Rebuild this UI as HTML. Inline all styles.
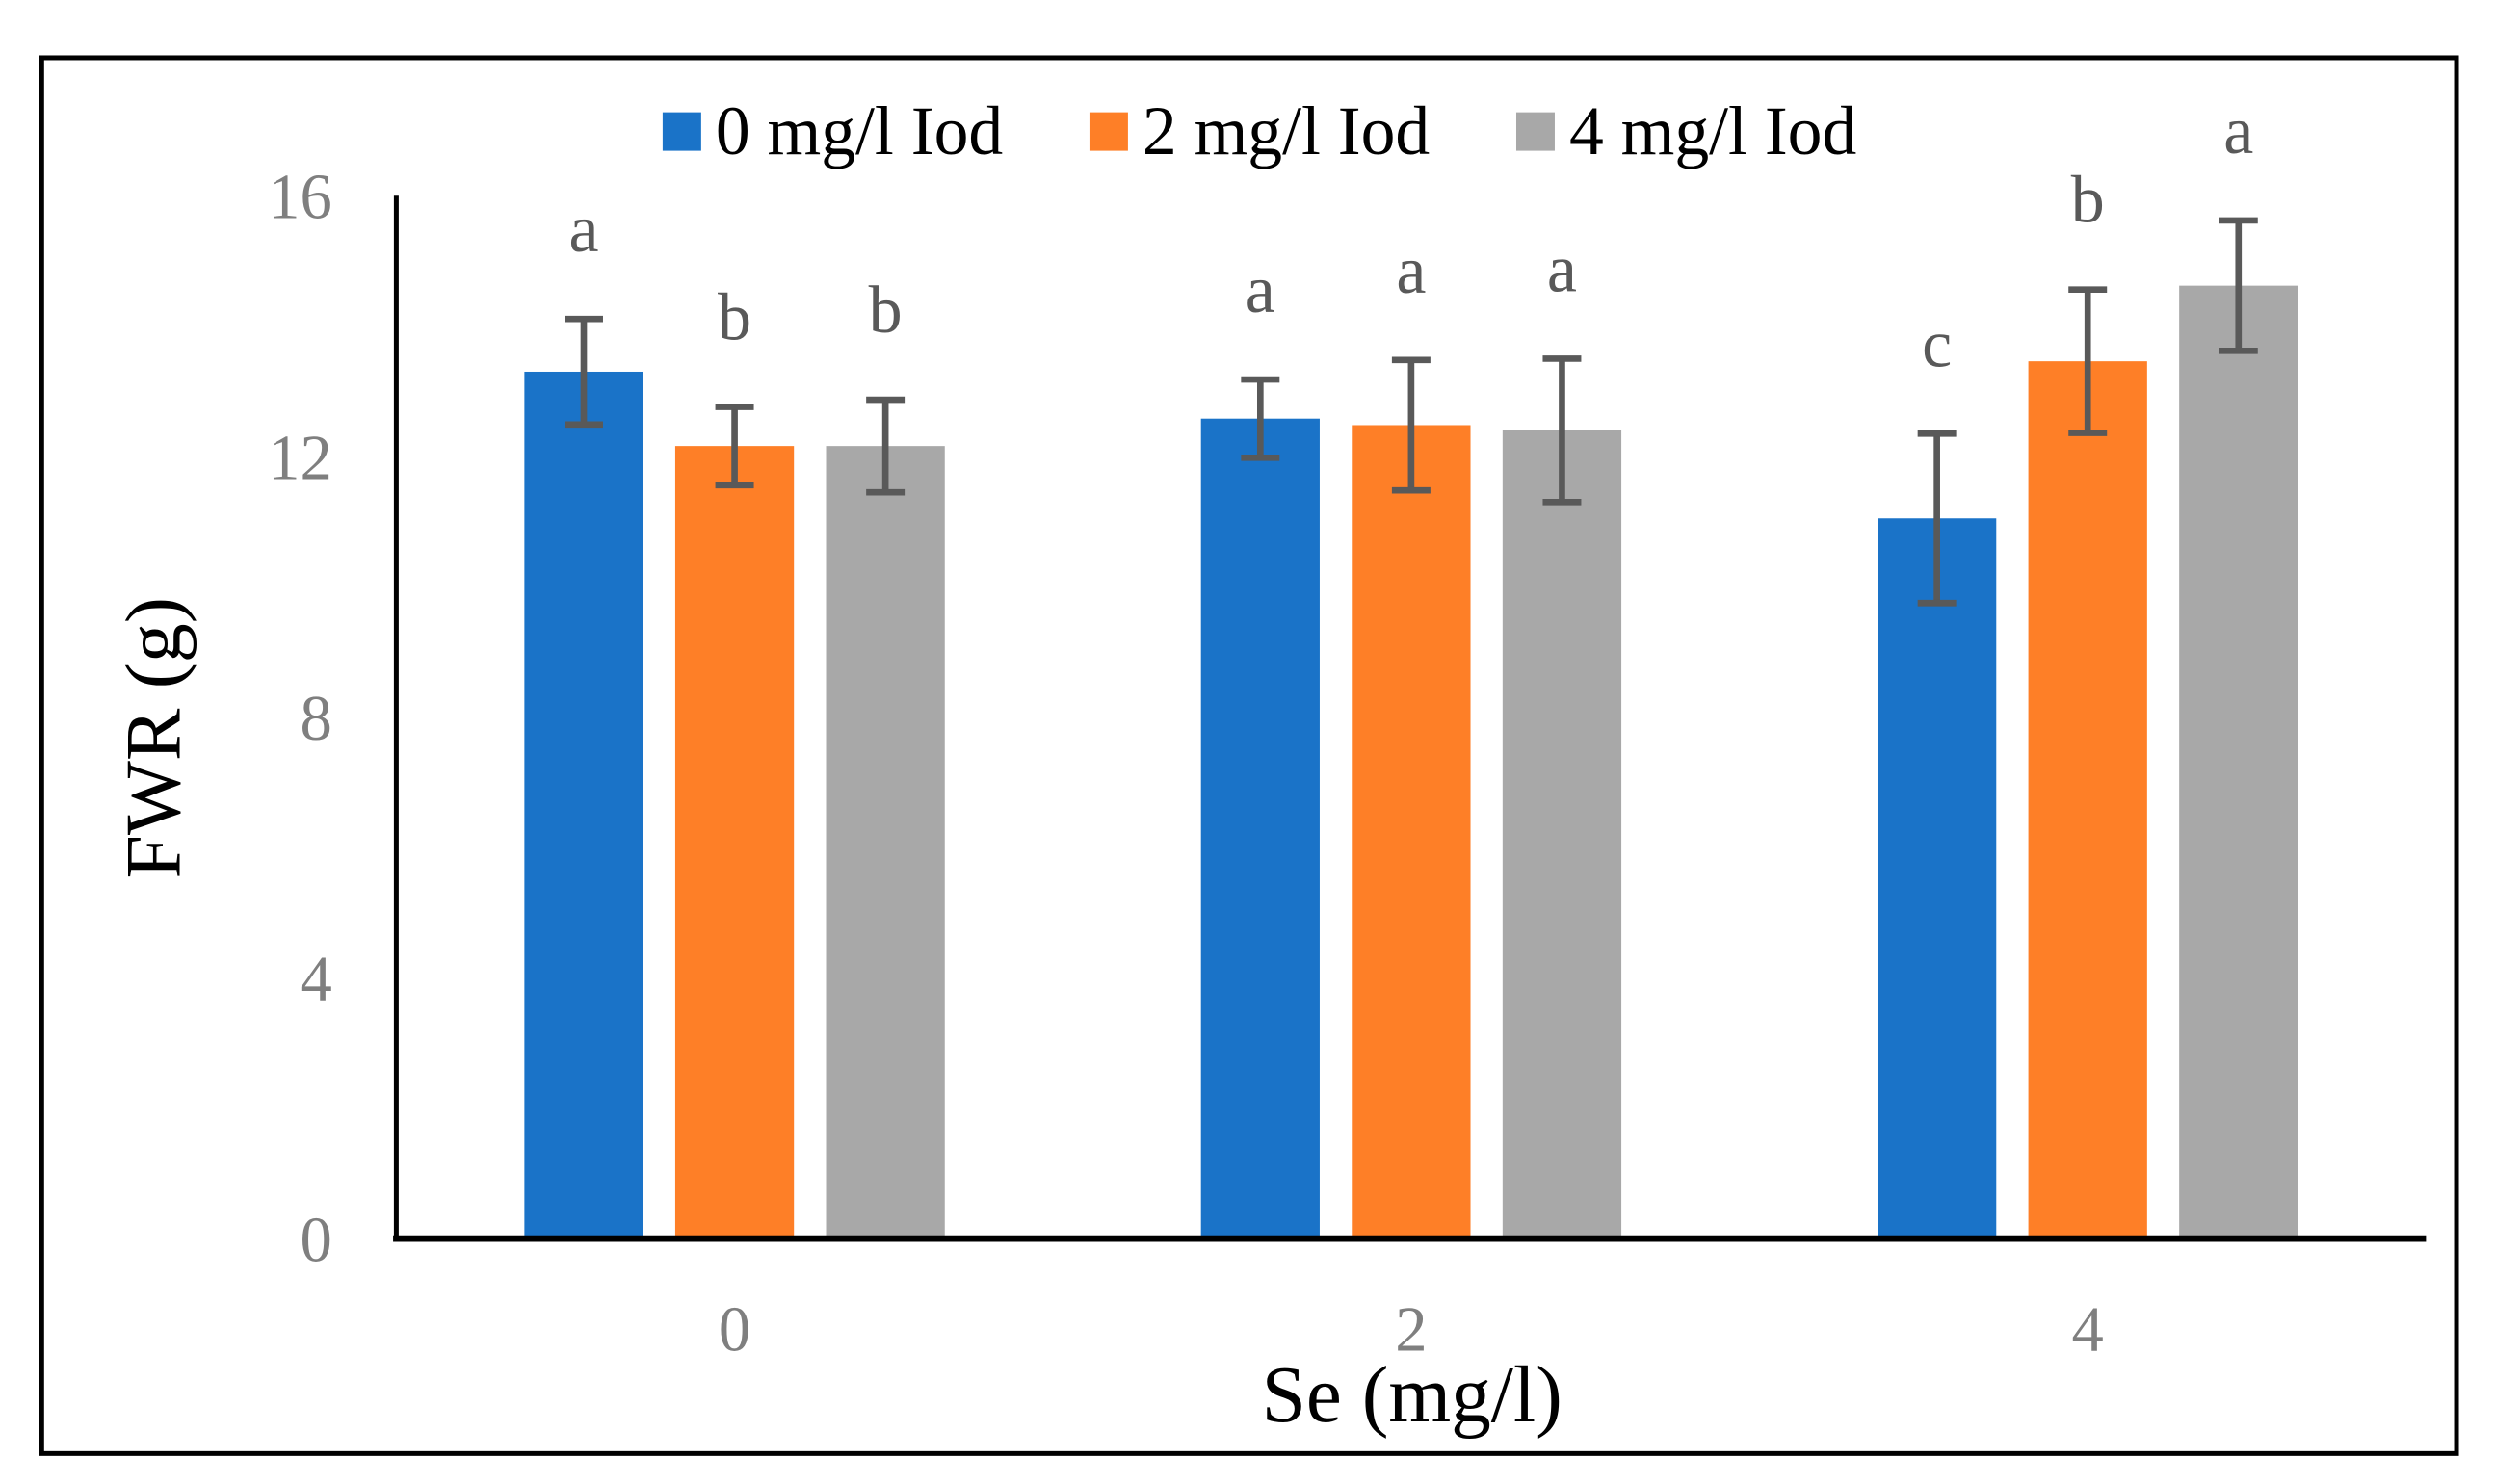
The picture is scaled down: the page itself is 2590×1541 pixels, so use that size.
<!DOCTYPE html>
<html><head><meta charset="utf-8"><style>
html,body{margin:0;padding:0;background:#fff;}
svg{display:block;font-family:"Liberation Serif",serif;}
</style></head><body>
<svg id="chart" width="2590" height="1541" viewBox="0 0 1555 925" preserveAspectRatio="none" xmlns="http://www.w3.org/2000/svg">
<rect x="26" y="36" width="1505" height="870" fill="#fff" stroke="#000" stroke-width="3"/>
<g id="legend"></g>
<g id="plot"></g>
<text transform="translate(112,460) rotate(-90)" text-anchor="middle" font-size="49" fill="#000">FWR (g)</text>
<text x="880" y="886" text-anchor="middle" font-size="50" fill="#000">Se (mg/l)</text>
</svg>
<script>
const categories = ["0","2","4"];
const seriesNames = ["0 mg/l Iod","2 mg/l Iod","4 mg/l Iod"];
const series0 = [13.3, 12.58, 11.05];
const series1 = [12.16, 12.48, 13.46];
const series2 = [12.16, 12.4, 14.62];
const err0 = [0.81, 0.6, 1.3];
const err1 = [0.6, 1.0, 1.1];
const err2 = [0.71, 1.1, 1.0];
const letters0 = ["a","a","c"];
const letters1 = ["b","a","b"];
const letters2 = ["b","a","a"];
const yTicks = [0,4,8,12,16];

const NS="http://www.w3.org/2000/svg";
const colors=["#1a73c8","#fe7f27","#a8a8a8"];
const x0=247, x1=1512, yTop=122, yBot=772, yMax=16;
const y=v=>yBot-(v/yMax)*(yBot-yTop);
const groupW=(x1-x0)/categories.length;
const barW=74, barStep=94;
const xc=i=>x0+groupW*(i+0.5);
const plot=document.getElementById('plot');
function mk(tag,attrs,parent){const e=document.createElementNS(NS,tag);for(const k in attrs)e.setAttribute(k,attrs[k]);parent.appendChild(e);return e;}

yTicks.forEach(t=>{
  const e=mk('text',{x:x0-40,y:y(t)+14,'text-anchor':'end','font-size':40,fill:'#7f7f7f'},plot);
  
  
  e.textContent=t;
});
categories.forEach((c,i)=>{
  const e=mk('text',{x:xc(i),y:yBot+70,'text-anchor':'middle','font-size':40,fill:'#7f7f7f'},plot);
  
  
  e.textContent=c;
});
const vals=[series0,series1,series2], errs=[err0,err1,err2], lets=[letters0,letters1,letters2];
categories.forEach((c,i)=>{
  for(let s=0;s<3;s++){
    const cx=xc(i)+(s-1)*barStep;
    const v=vals[s][i], er=errs[s][i];
    const r=mk('rect',{x:cx-barW/2,y:y(v),width:barW,height:yBot-y(v),fill:colors[s]},plot);
    
    
    const g=mk('g',{stroke:'#595959','stroke-width':4},plot);
    
    
    mk('line',{x1:cx,x2:cx,y1:y(v+er),y2:y(v-er)},g);
    mk('line',{x1:cx-12,x2:cx+12,y1:y(v+er),y2:y(v+er)},g);
    mk('line',{x1:cx-12,x2:cx+12,y1:y(v-er),y2:y(v-er)},g);
    const t=mk('text',{x:cx,y:y(v+er)-42,'text-anchor':'middle','font-size':42,fill:'#595959'},plot);
    
    
    t.textContent=lets[s][i];
  }
});
const ax=mk('line',{x1:x0,x2:x0,y1:yTop,y2:yBot+2,stroke:'#000','stroke-width':3},plot);


const bx=mk('line',{x1:x0-2,x2:x1,y1:yBot,y2:yBot,stroke:'#000','stroke-width':4},plot);



const legend=document.getElementById('legend');
const lx=[413,679,945];
seriesNames.forEach((n,s)=>{
  const g=mk('g',{},legend);
  
  
  mk('rect',{x:lx[s],y:70,width:24,height:24,fill:colors[s]},g);
  const t=mk('text',{x:lx[s]+33,y:96,'font-size':43,fill:'#000'},g);
  t.textContent=n;
});
</script>
</body></html>
